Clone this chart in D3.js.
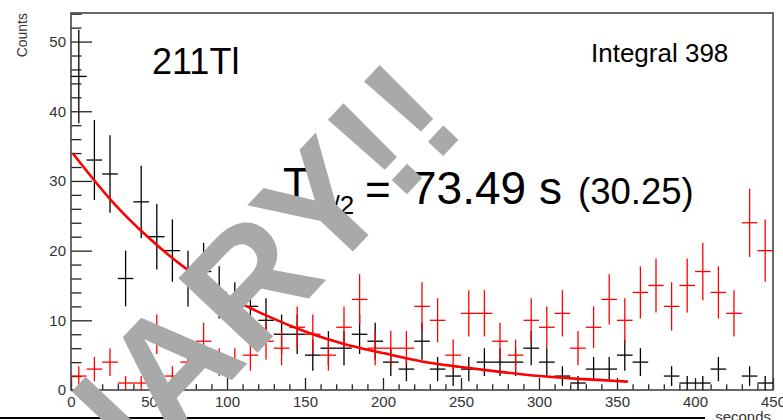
<!DOCTYPE html>
<html><head><meta charset="utf-8">
<script src="https://cdn.jsdelivr.net/npm/d3@7"></script>
<style>
body{margin:0;background:#fff}
svg{display:block}
text{font-family:"Liberation Sans",Arial,Helvetica,sans-serif}
</style>
</head><body>
<svg id="c" width="783" height="420"></svg>
<script>
// ---- data ----
const binCenters = [5,15,25,35,45,55,65,75,85,95,105,115,125,135,145,155,165,175,185,195,205,215,225,235,245,255,265,275,285,295,305,315,325,335,345,355,365,375,385,395,405,415,425,435,445];
const blackCounts = [45,33,31,16,27,22,20,16,17,14,12,12,10,8,8,5,6,6,8,7,4,3,7,3,2,3,4,4,4,6,4,2,1,3,3,5,4,0,2,1,1,3,0,2,1];
const redCounts   = [2,3,4,1,1,8,2,4,7,4,4,5,7,6,9,8,5,9,13,6,6,6,12,10,5,11,11,7,5,10,9,11,6,9,13,10,14,15,12,15,17,14,11,24,20];
const binWidth = 10;
const fitT = [1,25,50,75,100,125,150,175,200,225,250,275,300,325,350,357];
const fitY = [34.0,27.4,21.8,17.2,13.5,10.7,8.4,6.6,5.3,4.1,3.3,2.6,2.0,1.6,1.3,1.2];
const xTicks = [0,50,100,150,200,250,300,350,400,450];
const xMinor = [10,20,30,40,60,70,80,90,110,120,130,140,160,170,180,190,210,220,230,240,260,270,280,290,310,320,330,340,360,370,380,390,410,420,430,440];
const yTicks = [0,10,20,30,40,50];
const yMinor = [2,4,6,8,12,14,16,18,22,24,26,28,32,34,36,38,42,44,46,48,52,54];
const labels = {iso:"211Tl", integral:"Integral 398", half:"73.49 s", err:"(30.25)", xTitle:"seconds", yTitle:"Counts", mark:"PRELIMINARY!!"};

// ---- layout ----
const svg = d3.select("#c");
const L = 71, R = 773, T = 13, B = 390;
const x = d3.scaleLinear().domain([0,450]).range([L,R]);
const y = d3.scaleLinear().domain([0,54.1]).range([B,T]);

// axes
svg.append("g").attr("transform",`translate(${L},0)`)
  .call(d3.axisLeft(y).tickValues(yTicks).tickSizeInner(-21).tickSizeOuter(0).tickPadding(5).tickFormat(d3.format("d")));
svg.append("g").attr("transform",`translate(${L},0)`)
  .call(d3.axisLeft(y).tickValues(yMinor.filter(v=>v<=54)).tickSizeInner(-10.5).tickSizeOuter(0).tickFormat(""));
svg.append("g").attr("transform",`translate(0,${B})`)
  .call(d3.axisBottom(x).tickValues(xTicks).tickSizeInner(-12).tickSizeOuter(0).tickPadding(6.5).tickFormat(d3.format("d")));
svg.append("g").attr("transform",`translate(0,${B})`)
  .call(d3.axisBottom(x).tickValues(xMinor).tickSizeInner(-5.7).tickSizeOuter(0).tickFormat(""));
svg.selectAll(".domain").remove();
svg.selectAll(".tick line").attr("stroke","#222").attr("stroke-width",1.3);
svg.selectAll(".tick text").attr("font-size",15).attr("fill","#333");

// frame
svg.append("rect").attr("x",L).attr("y",T).attr("width",R-L).attr("height",B-T)
  .attr("fill","none").attr("stroke","#444").attr("stroke-width",1.6);

// histograms with error bars
function drawHist(counts, color, cls){
  const data = binCenters.map((c,i)=>({c, v:counts[i]})).filter(d=>d.v>0);
  const g = svg.append("g").attr("class",cls).attr("stroke",color).attr("stroke-width",1.3);
  g.selectAll("line.h").data(data).join("line").attr("class","h")
    .attr("x1",d=>x(d.c-binWidth/2)).attr("x2",d=>x(d.c+binWidth/2))
    .attr("y1",d=>y(d.v)).attr("y2",d=>y(d.v));
  g.selectAll("line.v").data(data).join("line").attr("class","v")
    .attr("x1",d=>x(d.c)).attr("x2",d=>x(d.c))
    .attr("y1",d=>y(Math.max(0,d.v-Math.sqrt(d.v)))).attr("y2",d=>y(Math.min(54.1,d.v+Math.sqrt(d.v))));
}
drawHist(blackCounts,"#000","black");
drawHist(redCounts,"#ff0000","red");

// fit curve
const fitPts = fitT.map((t,i)=>[t,fitY[i]]);
svg.append("path").datum(fitPts)
  .attr("d", d3.line().x(d=>x(d[0])).y(d=>y(d[1])).curve(d3.curveMonotoneX))
  .attr("fill","none").attr("stroke","#ff0000").attr("stroke-width",2.6);

// texts
svg.append("text").attr("x",27).attr("y",T).attr("transform",`rotate(-90,27,${T})`)
  .attr("text-anchor","end").attr("font-size",14).attr("fill","#333").text(labels.yTitle);
svg.append("text").attr("x",771).attr("y",422).attr("text-anchor","end")
  .attr("font-size",15).attr("fill","#333").text(labels.xTitle);
svg.append("text").attr("x",152).attr("y",73.5).attr("font-size",36).text(labels.iso);
svg.append("text").attr("x",591).attr("y",61.5).attr("font-size",26).text(labels.integral);
svg.append("text").attr("x",283).attr("y",199).attr("font-size",44).text("T");
svg.append("text").attr("x",318).attr("y",214).attr("font-size",26).text("1/2");
svg.append("text").attr("x",365).attr("y",205).attr("font-size",44).text("=");
svg.append("text").attr("x",411).attr("y",204).attr("font-size",46).text(labels.half);
svg.append("text").attr("x",578).attr("y",204).attr("font-size",36.5).text(labels.err);

// bottom line of the pad
svg.append("line").attr("x1",0).attr("x2",705).attr("y1",418).attr("y2",418)
  .attr("stroke","#000").attr("stroke-width",2);

// watermark
svg.append("text").attr("transform","translate(469,128.4) rotate(-46.7)")
  .attr("text-anchor","end").attr("font-size",158).attr("font-weight","bold")
  .attr("fill","#a9a9a9").text(labels.mark);
</script>
</body></html>
